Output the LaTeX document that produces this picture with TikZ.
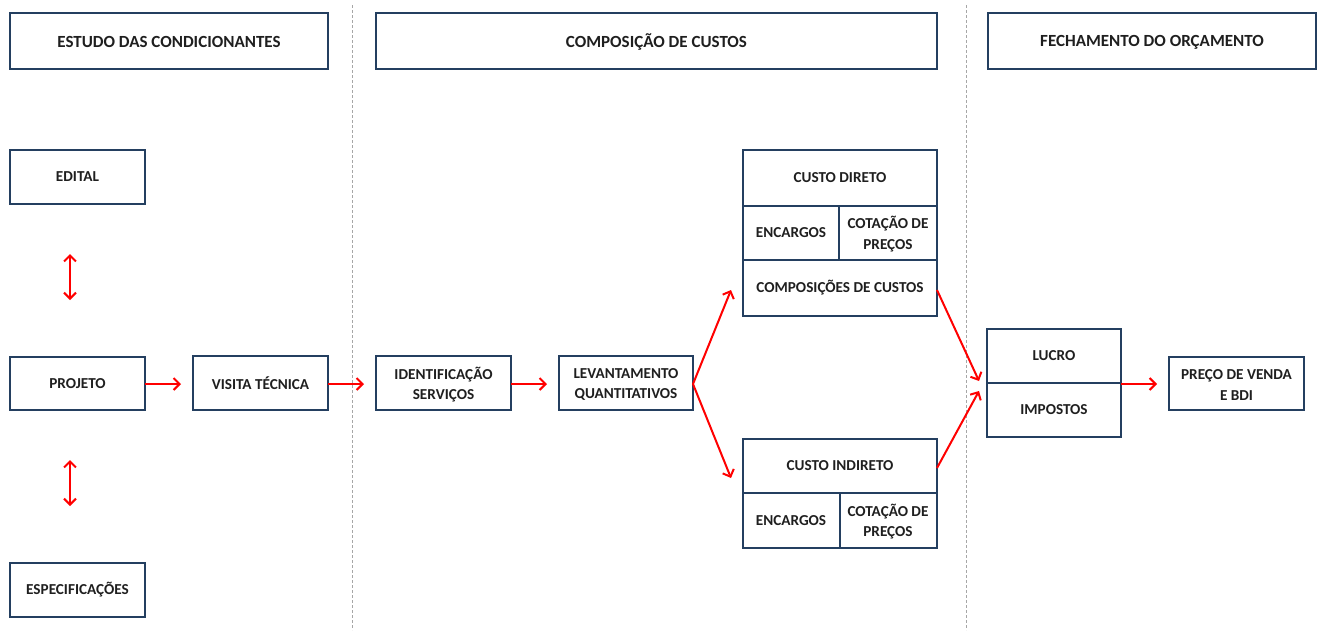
\documentclass[tikz,border=0pt]{standalone}
\usepackage{fontspec}
\setmainfont{Carlito}
\usetikzlibrary{arrows.meta}
\definecolor{navy}{HTML}{243F60}
\definecolor{arrowred}{HTML}{FF0000}
\tikzset{
  box/.style={draw=navy, line width=2pt, fill=white},
  lbl/.style={font=\bfseries\fontsize{15.2}{20.5}\selectfont, align=center, text=black!88},
  head/.style={lbl, font=\bfseries\fontsize{17}{20}\selectfont},
  flow/.style={draw=arrowred, line width=2pt, -{Straight Barb[length=6pt,width=12pt]}},
  bothway/.style={draw=arrowred, line width=2pt, {Straight Barb[length=6pt,width=12pt]}-{Straight Barb[length=6pt,width=12pt]}},
  divider/.style={draw=gray!70, line width=0.6pt, dash pattern=on 3pt off 2pt}
}
\begin{document}
\begin{tikzpicture}[x=1pt,y=-1pt]
\useasboundingbox (0,0) rectangle (1322,630);

% column dividers
\draw[divider] (352,5) -- (352,630);
\draw[divider] (966,5) -- (966,630);

% headers
\draw[box] (10,13) rectangle (328,69);
\node[head] (h1) at (169,42) {ESTUDO DAS CONDICIONANTES};
\draw[box] (376,13) rectangle (937,69);
\node[head] (h2) at (656.5,42) {COMPOSIÇÃO DE CUSTOS};
\draw[box] (988,13) rectangle (1316,69);
\node[head] (h3) at (1152,42) {FECHAMENTO DO ORÇAMENTO};

% conditioning inputs
\draw[box] (10,150) rectangle (145,204);
\node[lbl] (edital) at (77.5,177) {EDITAL};
\draw[box] (10,357) rectangle (145,410);
\node[lbl] (projeto) at (77.5,383.5) {PROJETO};
\draw[box] (10,563) rectangle (145,617);
\node[lbl] (espec) at (77.5,590) {ESPECIFICAÇÕES};
\draw[box] (193,356) rectangle (328,410);
\node[lbl] (visita) at (260.5,383) {VISITA TÉCNICA};

\coordinate (da1) at (70,254);
\coordinate (db1) at (70,300);
\coordinate (da2) at (70,460);
\coordinate (db2) at (70,506);
\draw[bothway] (da1) -- (db1);
\draw[bothway] (da2) -- (db2);

% cost composition
\draw[box] (376,356) rectangle (511,410);
\node[lbl] (ident) at (443.5,384.5) {IDENTIFICAÇÃO\\SERVIÇOS};
\draw[box] (559,356) rectangle (693,410);
\node[lbl] (levant) at (626,384.5) {LEVANTAMENTO\\QUANTITATIVOS};

% direct cost block
\draw[box] (743,150) rectangle (937,316);
\draw[box] (743,206) -- (937,206);
\draw[box] (743,260) -- (937,260);
\draw[box] (839,206) -- (839,260);
\node[lbl] (cd) at (840,178) {CUSTO DIRETO};
\node[lbl] (cdenc) at (791,233) {ENCARGOS};
\node[lbl] (cdcot) at (888,234) {COTAÇÃO DE\\PREÇOS};
\node[lbl] (cdcomp) at (840,288) {COMPOSIÇÕES DE CUSTOS};

% indirect cost block
\draw[box] (743,439) rectangle (937,548);
\draw[box] (743,493) -- (937,493);
\draw[box] (840,493) -- (840,548);
\node[lbl] (ci) at (840,466) {CUSTO INDIRETO};
\node[lbl] (cienc) at (791,520.5) {ENCARGOS};
\node[lbl] (cicot) at (888,521.5) {COTAÇÃO DE\\PREÇOS};

% closing
\draw[box] (987,329) rectangle (1121,437);
\draw[box] (987,383) -- (1121,383);
\node[lbl] (lucro) at (1054,356) {LUCRO};
\node[lbl] (impostos) at (1054,410) {IMPOSTOS};
\draw[box] (1169,357) rectangle (1304,410);
\node[lbl] (preco) at (1236.5,385) {PREÇO DE VENDA\\E BDI};

% flow connectors
\coordinate (p1) at (145,384);  \coordinate (p2) at (181,384);
\coordinate (v1) at (328,384);  \coordinate (v2) at (364,384);
\coordinate (i1) at (511,384);  \coordinate (i2) at (547,384);
\coordinate (l1) at (693,384);
\coordinate (lt) at (731,290);  \coordinate (lb) at (731,478);
\coordinate (cdr) at (937,290); \coordinate (cir) at (937,468);
\coordinate (fu) at (979,381);  \coordinate (fd) at (979,391);
\coordinate (q1) at (1121,384); \coordinate (q2) at (1157,384);
\draw[flow] (p1) -- (p2);
\draw[flow] (v1) -- (v2);
\draw[flow] (i1) -- (i2);
\draw[flow] (l1) -- (lt);
\draw[flow] (l1) -- (lb);
\draw[flow] (cdr) -- (fu);
\draw[flow] (cir) -- (fd);
\draw[flow] (q1) -- (q2);
\end{tikzpicture}
\end{document}
